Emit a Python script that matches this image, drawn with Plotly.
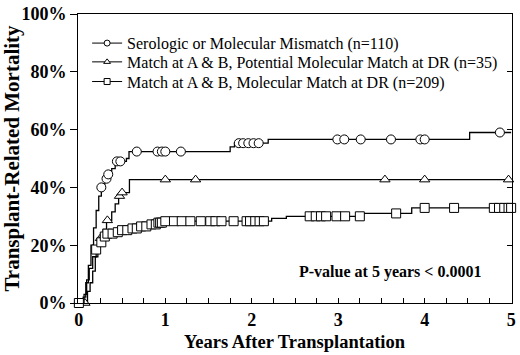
import plotly.graph_objects as go

# ---- data (years, cumulative % mortality) ----
names = ["Serologic or Molecular Mismatch (n=110)",
         "Match at A & B, Potential Molecular Match at DR (n=35)",
         "Match at A & B, Molecular Match at DR (n=209)"]

mm_t = [0, 0.05, 0.08, 0.11, 0.14, 0.17, 0.20, 0.23, 0.26, 0.30, 0.33, 0.38, 0.42, 0.55, 0.58, 1.75, 1.80, 2.19, 4.52, 5.0]
mm_y = [0, 2, 7, 13, 20, 26, 32, 37, 40, 43, 44.5, 46.5, 49, 50, 52.4, 54, 55.3, 56.6, 59, 59]
mm_c = [0, 0.26, 0.32, 0.34, 0.44, 0.48, 0.67, 0.91, 0.96, 1.0, 1.18, 1.85, 1.9, 1.96, 2.02, 2.08,
        2.99, 3.07, 3.26, 3.61, 3.95, 4.0, 4.87]

pm_t = [0, 0.07, 0.10, 0.13, 0.16, 0.19, 0.22, 0.25, 0.28, 0.32, 0.38, 0.42, 0.46, 0.50, 0.585, 5.0]
pm_y = [0, 0, 4, 7, 11, 16, 20, 22.4, 25.5, 28.6, 31.5, 34.3, 37, 38.2, 42.7, 42.7]
pm_c = [0.07, 0.25, 0.27, 0.33, 0.47, 0.50, 1.0, 1.35, 3.54, 4.0, 4.97]

ms_t = [0, 0.02, 0.06, 0.09, 0.12, 0.16, 0.20, 0.24, 0.27, 0.31, 0.40, 0.50, 0.60, 0.70, 0.80, 0.90, 1.0,
        2.23, 2.40, 3.28, 3.85, 5.0]
ms_y = [0, 0, 3, 8, 12, 16, 18.5, 21, 23, 24, 24.5, 25.2, 25.8, 26.5, 27.2, 27.8, 28.3,
        29.3, 30, 31, 32.9, 32.9]
ms_c = [0, 0.2, 0.26, 0.3, 0.33, 0.39, 0.45, 0.5, 0.56, 0.62, 0.67, 0.72, 0.78, 0.84, 0.89, 0.92, 0.94,
        0.96, 1.0, 1.1, 1.19, 1.29, 1.41, 1.52, 1.58, 1.65, 1.79, 1.94, 1.98, 2.04, 2.09, 2.14,
        2.67, 2.74, 2.8, 2.86, 2.98, 3.08, 3.25, 3.67, 4.0, 4.34, 4.8, 4.86, 4.92, 4.97, 5.0]

yticks = [0, 20, 40, 60, 80, 100]
xticks = [0, 1, 2, 3, 4, 5]


def step_at(ts, ys, t):
    v = ys[0]
    for a, b in zip(ts, ys):
        if a <= t:
            v = b
    return v


serif = "Liberation Serif"
fig = go.Figure()
groups = [(mm_t, mm_y, mm_c, "circle"), (pm_t, pm_y, pm_c, "triangle-up"), (ms_t, ms_y, ms_c, "square")]
legend_ids = ["legend", "legend2", "legend3"]
legend_y = [0.899, 0.834, 0.766]
for (t, y, c, sym), nm, lid in zip(groups, names, legend_ids):
    fig.add_trace(go.Scatter(x=t, y=y, mode="lines", line=dict(color="black", width=1.3, shape="hv"),
                             showlegend=False, hoverinfo="skip"))
    fig.add_trace(go.Scatter(x=c, y=[step_at(t, y, v) for v in c], mode="markers",
                             marker=dict(symbol=sym, size=9, color="white", line=dict(color="black", width=1)),
                             showlegend=False, cliponaxis=False))
    fig.add_trace(go.Scatter(x=[None], y=[None], mode="lines+markers", name=nm, legend=lid,
                             line=dict(color="black", width=1),
                             marker=dict(symbol=sym, size=6, color="white", line=dict(color="black", width=1))))

fig.add_annotation(x=3.6, y=10.7, xref="x", yref="y", text="<b>P-value at 5 years < 0.0001</b>",
                   showarrow=False, font=dict(family=serif, size=16, color="black"))
fig.add_annotation(x=0.5, y=-0.134, xref="paper", yref="paper", yanchor="middle",
                   text="<b>Years After Transplantation</b>",
                   showarrow=False, font=dict(family=serif, size=18.5, color="black"))

leg_common = dict(x=0.021, xanchor="left", yanchor="middle", bgcolor="rgba(0,0,0,0)",
                  font=dict(family=serif, size=16, color="black"))

fig.update_layout(
    width=520, height=355,
    margin=dict(l=78, r=4, t=12, b=52),
    paper_bgcolor="white", plot_bgcolor="white",
    font=dict(family=serif, color="black"),
    showlegend=True,
    legend=dict(y=legend_y[0], **leg_common),
    legend2=dict(y=legend_y[1], **leg_common),
    legend3=dict(y=legend_y[2], **leg_common),
    xaxis=dict(range=[-0.01, 5.01], tickvals=xticks, ticktext=[f"<b>{v}</b>" for v in xticks],
               ticks="inside", ticklen=5, tickcolor="black", showline=True, linecolor="black", linewidth=1,
               mirror=True, showgrid=False, zeroline=False, tickfont=dict(family=serif, size=18),
               ticklabeloverflow="allow",
               minor=dict(dtick=0.25, ticks="inside", ticklen=5, tickcolor="black")),
    yaxis=dict(range=[0, 100], tickvals=yticks, ticktext=[f"<b>{v}%</b>" for v in yticks],
               ticks="outside", ticklen=7, tickcolor="black", showline=True, linecolor="black", linewidth=1,
               mirror=True, showgrid=False, zeroline=False, tickfont=dict(family=serif, size=18),
               ticklabelstandoff=0, ticklabeloverflow="allow",
               title=dict(text="<b>Transplant-Related Mortality</b>", font=dict(family=serif, size=21), standoff=2)),
    yaxis2=dict(range=[0, 100], overlaying="y", side="right", tickvals=yticks, showticklabels=False,
                ticks="inside", ticklen=5, tickcolor="black", showgrid=False, zeroline=False, showline=False),
)
fig.add_trace(go.Scatter(x=[None], y=[None], yaxis="y2", showlegend=False))
# remove the browser's default 8px body margin so the 520x355 figure fills the window
fig.write_html("out.html", config={"displayModeBar": False},
               post_script="document.body.style.margin='0px';")
